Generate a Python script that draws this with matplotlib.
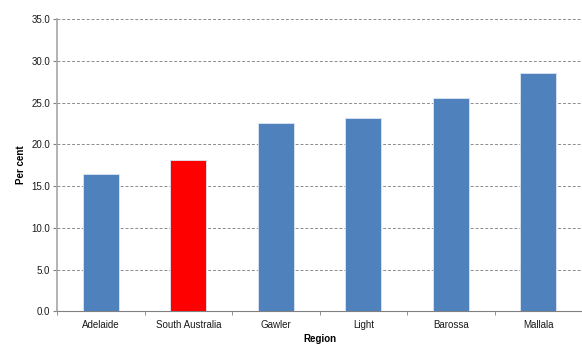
import numpy as np
from matplotlib import pyplot as plt
from matplotlib.ticker import FixedLocator, NullFormatter

regions = ['Adelaide', 'South Australia', 'Gawler', 'Light', 'Barossa', 'Mallala']
values = [16.4, 18.1, 22.5, 23.1, 25.5, 28.6]
bar_colors = ['#4F81BD', '#FF0000', '#4F81BD', '#4F81BD', '#4F81BD', '#4F81BD']

plt.rcParams['font.family'] = ['Liberation Sans', 'DejaVu Sans']

fig = plt.figure(figsize=(5.82, 3.47), dpi=100)
ax = fig.add_axes([0.098, 0.103, 0.902, 0.842])

x = np.arange(len(regions))
ax.bar(x, values, width=0.41, color=bar_colors, edgecolor='#DCE6F2', linewidth=0.6, zorder=3)

ax.set_xlim(-0.5, len(regions) - 0.5)
ax.set_ylim(0, 35)
ax.set_yticks(np.arange(0, 35.1, 5))
ax.set_yticklabels([f'{v:.1f}' for v in np.arange(0, 35.1, 5)])
ax.set_xticks(x)
ax.set_xticklabels(regions)
ax.xaxis.set_minor_locator(FixedLocator(np.arange(-0.5, len(regions), 1.0)))
ax.xaxis.set_minor_formatter(NullFormatter())

ax.tick_params(axis='x', which='major', length=0, labelsize=7, pad=6, colors='#1A1A1A')
ax.tick_params(axis='x', which='minor', length=3, color='#808080', direction='out')
ax.tick_params(axis='y', length=3, labelsize=7, color='#808080', labelcolor='#1A1A1A', pad=2)

ax.grid(axis='y', linestyle=(0, (3, 2)), color='#8C8C8C', linewidth=0.7, zorder=0)
for side in ['top', 'right']:
    ax.spines[side].set_visible(False)
ax.spines['left'].set_color('#A6A6A6')
ax.spines['left'].set_linewidth(1.2)
ax.spines['bottom'].set_color('#808080')
ax.spines['bottom'].set_linewidth(0.8)

ax.set_xlabel('Region', fontsize=7, fontweight='bold', labelpad=3)
ax.set_ylabel('Per cent', fontsize=7, fontweight='bold', labelpad=4)

fig.savefig('out.png', dpi=100)
